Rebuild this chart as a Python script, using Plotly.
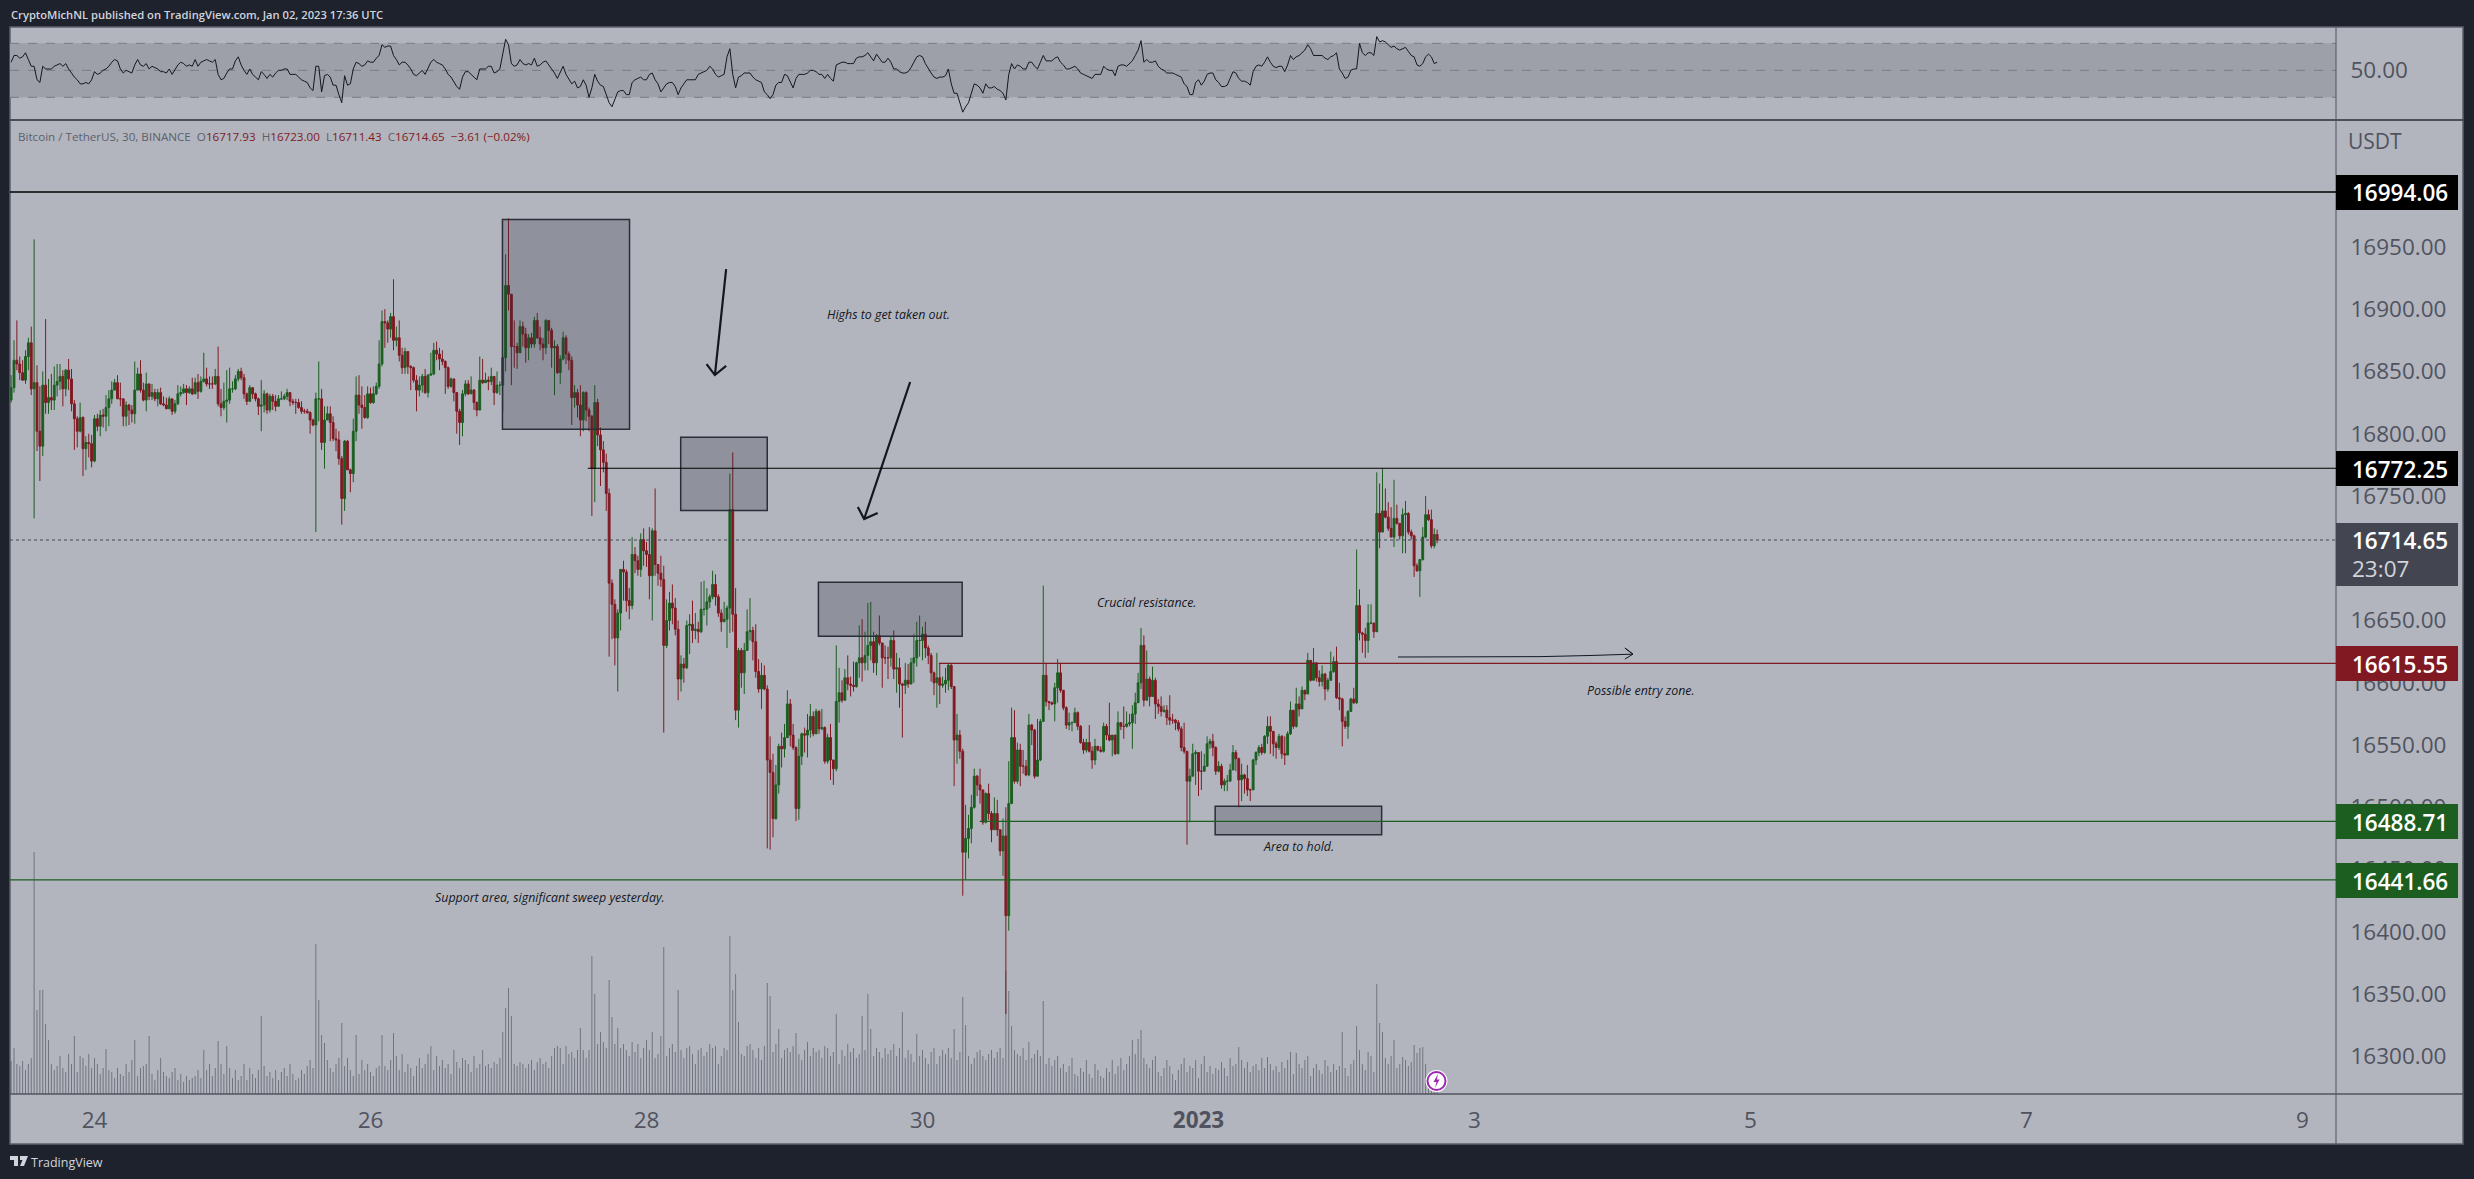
import pandas as pd
import plotly.graph_objects as go

W, H = 2474, 1179

first_time = "2022-12-23 09:30"
closes = [
16837,16859,16856,16849,16843,16862,16873,16836,16841,16802,
16790,16839,16825,16829,16827,16839,16842,16846,16836,16851,
16844,16824,16812,16802,16813,16788,16793,16792,16778,16812,
16806,16815,16814,16821,16828,16835,16841,16828,16828,16814,
16823,16819,16816,16835,16848,16835,16827,16840,16830,16833,
16828,16833,16824,16823,16820,16828,16818,16824,16832,16833,
16836,16833,16836,16832,16841,16834,16842,16844,16840,16840,
16840,16846,16824,16821,16826,16827,16836,16836,16844,16850,
16845,16832,16826,16837,16832,16828,16822,16823,16832,16819,
16830,16826,16822,16828,16828,16830,16833,16826,16825,16825,
16821,16818,16818,16817,16811,16807,16828,16828,16793,16811,
16816,16809,16796,16795,16780,16748,16794,16771,16768,16802,
16831,16823,16821,16813,16832,16825,16832,16838,16856,16890,
16889,16884,16894,16875,16877,16863,16853,16866,16854,16853,
16843,16835,16839,16846,16833,16847,16848,16867,16864,16860,
16858,16853,16838,16844,16833,16818,16809,16832,16840,16832,
16835,16825,16819,16843,16841,16843,16842,16846,16833,16839,
16839,16861,16919,16912,16870,16870,16865,16886,16880,16869,
16877,16872,16891,16877,16872,16869,16891,16883,16869,16870,
16849,16860,16877,16864,16859,16829,16833,16823,16811,16833,
16819,16814,16772,16825,16799,16787,16777,16752,16680,16663,
16636,16656,16691,16689,16666,16662,16703,16698,16691,16715,
16706,16703,16686,16722,16695,16688,16683,16630,16650,16664,
16660,16643,16603,16615,16612,16646,16647,16642,16643,16641,
16659,16659,16665,16669,16679,16669,16656,16649,16651,16660,
16739,16655,16578,16626,16608,16626,16641,16642,16633,16609,
16595,16606,16595,16538,16528,16491,16518,16549,16547,16556,
16583,16558,16548,16499,16541,16559,16558,16562,16573,16559,
16577,16563,16564,16537,16556,16538,16531,16585,16592,16586,
16604,16599,16598,16597,16616,16620,16616,16622,16630,16633,
16616,16638,16632,16620,16620,16620,16634,16611,16612,16599,
16598,16602,16599,16616,16620,16634,16634,16639,16628,16622,
16608,16600,16604,16598,16599,16602,16614,16597,16554,16558,
16545,16464,16475,16483,16500,16525,16518,16514,16488,16511,
16495,16482,16495,16482,16465,16477,16413,16503,16556,16521,
16546,16533,16533,16526,16566,16562,16525,16538,16569,16606,
16585,16584,16583,16596,16608,16594,16580,16566,16568,16568,
16576,16565,16552,16546,16552,16545,16538,16549,16546,16545,
16565,16558,16554,16558,16543,16568,16565,16565,16567,16568,
16575,16584,16600,16630,16586,16603,16589,16602,16583,16581,
16577,16578,16572,16570,16570,16568,16563,16548,16545,16521,
16525,16543,16544,16529,16529,16533,16551,16553,16548,16529,
16533,16518,16521,16521,16530,16544,16539,16522,16526,16523,
16514,16514,16538,16544,16548,16544,16557,16565,16561,16551,
16548,16557,16543,16542,16559,16578,16565,16583,16579,16594,
16591,16618,16602,16616,16604,16601,16607,16595,16602,16609,
16617,16588,16587,16569,16565,16577,16587,16584,16662,16640,
16639,16634,16648,16648,16641,16736,16721,16738,16733,16724,
16717,16732,16728,16718,16735,16736,16721,16718,16694,16690,
16699,16717,16735,16731,16710,16719,16714.65]
highs = [
16847,16875,16891,16862,16859,16867,16877,16886,16956,16855,
16838,16850,16892,16844,16848,16854,16856,16856,16851,16852,
16860,16852,16827,16814,16825,16814,16798,16800,16799,16815,
16816,16819,16820,16831,16835,16842,16844,16847,16841,16828,
16826,16824,16823,16858,16853,16859,16841,16849,16840,16840,
16836,16836,16837,16830,16829,16830,16828,16827,16839,16838,
16840,16839,16838,16845,16845,16848,16846,16865,16853,16846,
16846,16852,16870,16836,16841,16851,16853,16842,16847,16852,
16853,16848,16833,16839,16837,16833,16829,16843,16835,16833,
16832,16832,16831,16831,16834,16832,16836,16833,16828,16828,
16828,16826,16820,16820,16818,16812,16833,16858,16836,16822,
16822,16822,16814,16804,16802,16782,16795,16795,16772,16812,
16846,16847,16838,16831,16838,16837,16838,16841,16875,16899,
16900,16891,16897,16924,16886,16891,16869,16869,16865,16855,
16854,16847,16846,16848,16852,16848,16865,16873,16874,16869,
16867,16859,16854,16845,16844,16833,16820,16835,16843,16843,
16846,16836,16826,16862,16860,16849,16846,16853,16846,16850,
16842,16863,16944,16973,16912,16891,16873,16891,16890,16885,
16880,16881,16894,16897,16886,16877,16892,16891,16885,16875,
16872,16863,16882,16879,16866,16862,16839,16836,16839,16834,
16834,16821,16815,16839,16828,16805,16794,16784,16756,16683,
16667,16659,16691,16698,16691,16676,16717,16709,16702,16720,
16724,16713,16725,16724,16756,16695,16702,16694,16667,16673,
16679,16668,16650,16622,16620,16650,16655,16666,16656,16649,
16681,16682,16676,16671,16690,16687,16671,16659,16665,16662,
16768,16785,16676,16628,16628,16632,16659,16668,16645,16647,
16619,16616,16614,16598,16557,16543,16534,16551,16560,16567,
16594,16587,16567,16549,16555,16560,16564,16575,16583,16577,
16579,16578,16579,16565,16559,16567,16538,16630,16612,16602,
16611,16622,16605,16617,16617,16646,16651,16641,16664,16665,
16641,16639,16654,16632,16630,16629,16637,16642,16624,16620,
16600,16616,16615,16620,16639,16649,16654,16645,16649,16630,
16624,16609,16624,16616,16605,16612,16616,16615,16597,16575,
16562,16547,16502,16494,16510,16531,16526,16531,16514,16512,
16519,16497,16508,16506,16482,16491,16500,16537,16580,16578,
16552,16551,16546,16538,16575,16567,16563,16571,16571,16678,
16616,16585,16585,16600,16619,16616,16594,16581,16576,16569,
16580,16577,16566,16555,16555,16566,16549,16555,16549,16549,
16568,16567,16584,16558,16558,16577,16568,16581,16577,16575,
16582,16592,16608,16644,16638,16626,16605,16613,16604,16587,
16589,16582,16582,16590,16575,16571,16570,16565,16568,16545,
16531,16551,16546,16544,16545,16543,16557,16555,16559,16549,
16537,16535,16523,16526,16535,16550,16546,16540,16535,16527,
16534,16515,16539,16545,16550,16551,16558,16573,16573,16561,
16553,16559,16558,16557,16561,16585,16578,16596,16589,16597,
16593,16624,16618,16628,16616,16610,16614,16608,16604,16625,
16621,16629,16600,16588,16573,16578,16588,16596,16707,16675,
16641,16644,16663,16663,16648,16769,16760,16772,16756,16745,
16741,16763,16743,16728,16740,16746,16737,16723,16719,16696,
16699,16725,16750,16739,16739,16724,16723]
lows = [
16825,16833,16851,16843,16843,16840,16851,16831,16732,16786,
16762,16782,16816,16816,16819,16819,16830,16835,16822,16830,
16835,16818,16787,16789,16801,16766,16771,16781,16773,16777,
16802,16798,16805,16802,16806,16824,16835,16828,16822,16806,
16806,16807,16809,16808,16835,16833,16826,16818,16827,16827,
16826,16822,16823,16822,16820,16820,16815,16816,16823,16830,
16832,16823,16832,16831,16832,16828,16833,16841,16838,16836,
16836,16839,16822,16814,16819,16809,16824,16833,16835,16842,
16843,16828,16823,16826,16828,16826,16815,16802,16817,16816,
16817,16819,16818,16822,16827,16827,16827,16822,16823,16816,
16820,16816,16816,16816,16800,16806,16721,16810,16787,16772,
16811,16794,16794,16786,16775,16727,16738,16771,16753,16761,
16794,16816,16804,16812,16812,16824,16824,16831,16836,16854,
16869,16873,16877,16867,16870,16858,16848,16848,16848,16835,
16841,16818,16830,16833,16832,16829,16847,16847,16859,16851,
16855,16832,16836,16837,16826,16800,16791,16798,16830,16831,
16832,16819,16814,16819,16840,16841,16835,16839,16823,16832,
16831,16818,16850,16899,16839,16853,16852,16865,16870,16857,
16859,16869,16869,16876,16867,16859,16864,16872,16853,16831,
16848,16840,16859,16856,16851,16807,16821,16813,16798,16802,
16810,16802,16734,16745,16790,16758,16769,16738,16621,16635,
16614,16593,16642,16666,16657,16651,16659,16688,16686,16685,
16694,16693,16667,16650,16686,16678,16677,16560,16628,16642,
16647,16638,16586,16593,16600,16611,16623,16632,16635,16632,
16640,16654,16646,16660,16667,16662,16653,16641,16649,16628,
16640,16641,16570,16564,16596,16591,16626,16634,16618,16604,
16592,16579,16594,16467,16466,16476,16490,16511,16532,16540,
16556,16549,16546,16489,16490,16534,16544,16540,16556,16557,
16559,16559,16562,16535,16535,16522,16518,16529,16568,16584,
16586,16594,16589,16593,16596,16604,16601,16610,16610,16618,
16608,16606,16630,16596,16615,16603,16613,16603,16592,16580,
16556,16591,16596,16600,16600,16613,16621,16618,16620,16615,
16601,16590,16580,16583,16596,16592,16594,16595,16517,16535,
16539,16429,16442,16459,16471,16499,16509,16503,16486,16487,
16490,16472,16483,16477,16461,16445,16334,16401,16504,16519,
16519,16517,16527,16525,16525,16550,16523,16525,16537,16569,
16581,16578,16582,16569,16584,16592,16578,16563,16562,16561,
16568,16562,16551,16543,16544,16544,16531,16534,16545,16544,
16544,16554,16553,16541,16542,16543,16562,16555,16564,16565,
16547,16567,16585,16595,16581,16586,16581,16589,16571,16575,
16573,16576,16566,16566,16567,16562,16561,16545,16543,16470,
16488,16525,16518,16509,16514,16529,16533,16547,16541,16526,
16528,16515,16513,16513,16521,16530,16529,16500,16505,16511,
16509,16505,16514,16534,16541,16542,16543,16551,16543,16541,
16539,16546,16539,16534,16542,16558,16563,16564,16573,16579,
16586,16591,16601,16602,16601,16597,16597,16586,16593,16602,
16608,16587,16578,16549,16563,16555,16577,16583,16583,16634,
16624,16620,16624,16647,16636,16641,16708,16721,16732,16722,
16717,16709,16727,16715,16704,16704,16719,16715,16685,16689,
16669,16698,16716,16730,16708,16708,16712]
volumes = [
33,46,30,28,33,24,30,36,242,84,104,104,70,54,30,24,28,38,26,22,
40,30,58,22,38,36,28,40,26,36,30,20,26,45,24,22,16,26,20,18,
30,22,34,54,18,26,28,30,58,20,14,24,36,22,18,16,22,26,14,20,
12,18,14,16,18,24,16,44,24,30,18,26,53,30,20,48,26,16,24,14,
18,30,14,26,20,16,24,78,28,18,22,16,24,14,22,26,18,30,20,14,
16,24,20,28,34,26,150,94,59,51,34,26,22,30,36,71,28,36,24,18,
59,20,34,24,30,22,18,26,28,59,28,24,34,61,38,24,40,22,30,26,
18,28,36,26,30,40,48,24,38,28,34,26,30,20,44,32,26,36,34,30,
22,38,26,30,44,28,30,26,32,30,36,62,86,106,78,30,28,32,30,26,
30,34,24,32,36,30,32,26,38,46,48,46,30,48,40,42,36,44,66,44,
36,44,138,100,50,62,52,46,114,77,50,66,46,50,44,38,52,42,50,36,
46,54,44,62,36,40,58,147,38,46,50,42,104,44,36,46,48,40,30,44,
46,38,42,50,46,48,30,38,46,44,158,104,120,72,40,38,48,50,44,36,
46,34,48,111,98,42,50,65,36,44,46,42,48,61,40,34,44,52,38,46,
42,44,36,48,46,38,42,80,30,44,38,50,42,46,36,40,78,44,100,65,
38,46,42,36,46,40,44,50,38,46,82,36,44,40,32,60,38,44,36,30,
42,46,30,38,44,40,46,36,65,34,42,97,69,38,30,36,42,44,38,34,
40,44,36,42,46,36,123,103,68,44,40,38,46,34,52,36,40,44,38,93,
30,36,28,34,38,26,30,22,28,36,20,18,26,22,34,20,16,30,24,18,
16,26,22,34,20,28,36,24,30,38,54,40,55,64,36,30,26,34,38,22,
18,26,34,28,20,14,24,30,36,22,28,26,34,16,30,38,22,28,20,26,
24,32,26,18,36,28,30,47,34,26,32,22,28,30,24,36,26,37,30,24,
28,22,32,26,34,42,20,41,30,26,34,38,18,26,30,24,20,34,28,22,
30,24,28,62,26,18,30,34,68,44,30,24,42,38,22,110,71,62,36,30,
38,54,26,30,37,34,28,32,49,41,46,47,30,18,22,14,10]
rsi_values = [
56,61,61,59,60,63,58,53,53,43,
41,53,51,51,51,53,54,55,53,55,
51,48,45,43,40,40,41,40,43,49,
47,48,50,51,53,56,58,57,51,48,
50,49,48,54,58,54,53,55,51,53,
52,51,49,49,48,51,47,51,54,56,
55,53,54,53,58,53,56,57,58,57,
56,58,47,43,44,48,51,51,57,60,
54,50,47,51,47,45,43,49,47,44,
47,45,48,50,50,51,51,47,47,47,
45,43,42,41,37,35,53,53,34,46,
47,45,39,39,32,26,46,39,40,51,
56,55,53,54,57,56,56,59,61,69,
67,68,68,61,58,54,56,56,54,51,
47,46,48,50,47,51,56,58,56,55,
54,51,47,45,41,38,36,45,49,49,
47,45,43,51,51,51,53,53,48,49,
51,63,73,69,55,53,54,58,55,54,
55,54,59,53,54,56,57,54,51,48,
44,49,53,47,43,40,42,37,38,43,
39,30,37,47,42,39,38,32,26,23,
29,34,35,35,32,32,41,43,44,45,
43,43,47,48,43,40,34,37,40,41,
41,38,32,37,40,43,43,43,43,47,
48,49,50,53,51,47,45,46,47,60,
66,47,37,45,46,48,48,48,45,43,
42,41,34,32,29,32,39,41,41,47,
46,42,37,44,47,47,47,48,50,50,
49,47,47,44,47,44,42,54,55,56,
56,55,55,55,59,60,60,61,63,60,
57,62,59,56,56,59,56,51,51,49,
48,48,49,52,56,60,61,60,55,51,
48,45,44,45,45,46,51,40,33,33,
26,19,23,26,33,40,39,37,33,40,
37,37,38,36,35,33,28,47,55,51,
54,53,51,51,56,56,53,51,56,61,
57,57,57,59,60,56,54,51,51,52,
53,51,48,47,46,45,44,47,47,47,
53,51,50,50,46,53,54,54,53,55,
57,61,65,72,56,58,56,56,57,53,
51,50,48,48,48,47,46,45,40,38,
32,32,41,43,39,42,47,48,48,43,
41,38,38,39,44,49,48,44,42,42,
41,39,49,53,54,53,56,60,56,53,
52,53,53,49,54,61,58,60,61,63,
65,69,66,61,61,61,61,59,58,60,
61,63,51,48,44,45,50,51,51,70,
63,61,63,63,61,75,71,72,71,69,
67,68,66,65,66,67,64,61,60,54,
53,55,60,62,60,55,56]
first_open = 16827
opens = [first_open] + closes[:-1]

price_ticks = [16300,16350,16400,16450,16500,16550,16600,16650,16750,16800,16850,16900,16950]
date_ticks = ["2022-12-24","2022-12-26","2022-12-28","2022-12-30","2023-01-01","2023-01-03","2023-01-05","2023-01-07","2023-01-09"]
date_labels = ["24","26","28","30","<b>2023</b>","3","5","7","9"]

BG = "#b2b5be"; DARK = "#1e222d"; RED = "#801922"; GREEN = "#1b5e20"; AXTXT = "#50535e"
FONT = "Open Sans"

times = pd.date_range(first_time, periods=len(closes), freq="30min")
t0 = pd.Timestamp("2022-12-24")
def bar(i):
    return t0 + pd.Timedelta(minutes=30 * i)
def px(x):
    return x / W
def py(y):
    return 1 - y / H

PLOT_L, PLOT_R = 10, 2336
fig = go.Figure()
fig.add_trace(go.Candlestick(x=times, open=opens, high=highs, low=lows, close=closes,
    increasing=dict(line=dict(color=GREEN, width=1), fillcolor=GREEN),
    decreasing=dict(line=dict(color=RED, width=1), fillcolor=RED),
    whiskerwidth=0, showlegend=False, hoverinfo="skip", xaxis="x", yaxis="y"))
# volume drawn as hairline stems
vol_x, vol_y = [], []
for t, v in zip(times, volumes):
    vol_x += [t, t, None]
    vol_y += [0, v, None]
fig.add_trace(go.Scatter(x=vol_x, y=vol_y, mode="lines", line=dict(color="rgba(50,53,65,0.85)", width=0.6),
    connectgaps=False, showlegend=False, hoverinfo="skip", xaxis="x", yaxis="y3"))
fig.add_trace(go.Scatter(x=times, y=rsi_values, mode="lines", line=dict(color="#131722", width=1),
    showlegend=False, hoverinfo="skip", xaxis="x", yaxis="y2"))

# hand-drawn arrows (bar index, price)
arrows = [
    ([219.7, 215.8, 212.9, 215.8, 219.7], [16932.2, 16847.1, 16855.9, 16847.1, 16854.4], 2.2),
    ([283.7, 267.7, 265.5, 267.7, 272.4], [16841.5, 16731.5, 16741.2, 16731.5, 16736.3], 2.2),
    ([453.4, 502.8, 520.2, 535.1, 532.3, 535.1, 532.3], [16620.7, 16621, 16621.9, 16623, 16627.9, 16623, 16619], 1),
]
for ax_i, ay, w in arrows:
    fig.add_trace(go.Scatter(x=[bar(i) for i in ax_i], y=ay, mode="lines", line=dict(color="#131722", width=w),
        showlegend=False, hoverinfo="skip", xaxis="x", yaxis="y"))

shapes = []
# panel background
shapes.append(dict(type="rect", xref="paper", yref="paper", x0=px(10), x1=px(2463), y0=py(1144), y1=py(27),
    fillcolor=BG, line=dict(color="#5d606b", width=1.5), layer="below"))
# RSI band and levels
shapes.append(dict(type="rect", xref="paper", yref="y2", x0=px(PLOT_L), x1=px(PLOT_R), y0=30, y1=70,
    fillcolor="#9da0a9", line=dict(width=0), layer="below"))
for lv in (70, 50, 30):
    shapes.append(dict(type="line", xref="paper", yref="y2", x0=px(PLOT_L), x1=px(PLOT_R), y0=lv, y1=lv,
        line=dict(color="#787b86", width=1, dash="dash"), layer="below"))
# pane separators
for x0, x1, y, c, w in [(10, 2463, 120, "#2a2e39", 1.5), (10, 2463, 1094, "#50535e", 1.5)]:
    shapes.append(dict(type="line", xref="paper", yref="paper", x0=px(x0), x1=px(x1), y0=py(y), y1=py(y),
        line=dict(color=c, width=w), layer="above"))
shapes.append(dict(type="line", xref="paper", yref="paper", x0=px(PLOT_R), x1=px(PLOT_R), y0=py(1144), y1=py(27),
    line=dict(color="#50535e", width=1), layer="above"))
# drawn rectangles
zones = [(141.9, 186.1, 16803.5, 16972.1), (203.9, 234.0, 16738.4, 16797.1),
         (251.8, 301.8, 16637.3, 16680.7), (389.8, 447.7, 16478.0, 16500.8)]
for a, b, lo, hi in zones:
    shapes.append(dict(type="rect", xref="x", yref="y", x0=bar(a), x1=bar(b), y0=lo, y1=hi,
        fillcolor="rgba(42,46,57,0.26)", line=dict(color="#2a2e39", width=1.5), layer="above"))
# price levels
plot_end = bar((PLOT_R - 94.5) / 2.875)
levels = [(16994.06, -29.4, "#000000", 1.4), (16772.25, 171.6, "#000000", 1.2), (16615.55, 293.7, RED, 1.2),
          (16488.71, 307.9, GREEN, 1.2), (16441.66, -29.4, GREEN, 1.2)]
for p, start, c, w in levels:
    shapes.append(dict(type="line", xref="x", yref="y", x0=bar(start), x1=plot_end, y0=p, y1=p,
        line=dict(color=c, width=w), layer="above"))
last_price = 16714.65
shapes.append(dict(type="line", xref="paper", yref="y", x0=px(PLOT_L), x1=px(PLOT_R), y0=last_price, y1=last_price,
    line=dict(color="#434651", width=1, dash="dot"), layer="above"))
# axis label boxes
def ybox(y0, y1, c):
    shapes.append(dict(type="rect", xref="paper", yref="paper", x0=px(PLOT_R), x1=px(2458), y0=py(y1), y1=py(y0),
        fillcolor=c, line=dict(width=0), layer="above"))
ybox(175, 210, "#000000"); ybox(451, 486, "#000000"); ybox(523, 586, "#434651")
ybox(646, 681, RED); ybox(804, 839, GREEN); ybox(863, 898, GREEN)

# lightning badge
def circle(cx, cy, r, fill, lc=None, lw=0):
    shapes.append(dict(type="circle", xref="paper", yref="paper", x0=px(cx - r), x1=px(cx + r), y0=py(cy + r), y1=py(cy - r),
        fillcolor=fill, line=dict(color=lc or fill, width=lw), layer="above"))
circle(1436.5, 1081, 11, "#ffffff")
circle(1436.5, 1081, 9, "#ffffff", "#9c27b0", 2)
def poly(pts, fill):
    s = "M " + " L ".join(f"{px(x):.6f},{py(y):.6f}" for x, y in pts) + " Z"
    shapes.append(dict(type="path", xref="paper", yref="paper", path=s, fillcolor=fill, line=dict(width=0), layer="above"))
poly([(1438, 1074), (1433.5, 1082), (1436.5, 1082), (1435, 1088), (1439.5, 1079.5), (1436.8, 1079.5)], "#9c27b0")
# TradingView mark
poly([(10, 1156), (18, 1156), (18, 1166), (14, 1166), (14, 1160), (10, 1160)], "#d1d4dc")
poly([(20, 1156), (28, 1156), (24, 1166), (20, 1166), (22.5, 1160), (20, 1160)], "#d1d4dc")

ann = []
def txt(x, y, t, size, color, anchor="left", weight=None):
    f = dict(family=FONT, size=size, color=color)
    if weight:
        f["weight"] = weight
    ann.append(dict(x=px(x), y=py(y), xref="paper", yref="paper", text=t, showarrow=False, xanchor=anchor,
        yanchor="middle", font=f, align="left", borderpad=0))

txt(10, 15, "CryptoMichNL published on TradingView.com, Jan 02, 2023 17:36 UTC", 11.2, "#d1d4dc", weight=600)
txt(104, 1162, "TradingView", 12.5, "#d1d4dc", anchor="right")
G = "#5d606b"
legend = (f'<span style="color:{G}">Bitcoin / TetherUS, 30, BINANCE &nbsp;O</span><span style="color:{RED}">16717.93</span>'
          f'<span style="color:{G}"> &nbsp;H</span><span style="color:{RED}">16723.00</span>'
          f'<span style="color:{G}"> &nbsp;L</span><span style="color:{RED}">16711.43</span>'
          f'<span style="color:{G}"> &nbsp;C</span><span style="color:{RED}">16714.65 &nbsp;−3.61 (−0.02%)</span>')
txt(17, 136, legend, 11.65, G)
txt(2347, 141, "USDT", 21, AXTXT)
for p, y in [("16994.06", 193), ("16772.25", 469), ("16714.65", 541), ("16615.55", 664), ("16488.71", 822), ("16441.66", 881)]:
    txt(2351, y, p, 22.5, "#ffffff", weight=600)
txt(2351, 568, "23:07", 22.5, "#d1d4dc")
for x, y, t in [(888.5, 314, "Highs to get taken out."), (1146.5, 602, "Crucial resistance."),
                (1641, 690, "Possible entry zone."), (1298.5, 846, "Area to hold."),
                (550, 897, "Support area, significant sweep yesterday.")]:
    txt(x, y, f"<i>{t}</i>", 12.4, "#131722", anchor="center")

fig.update_layout(
    width=W, height=H, margin=dict(l=0, r=0, t=0, b=0), autosize=False,
    paper_bgcolor=DARK, plot_bgcolor="rgba(0,0,0,0)", showlegend=False, hovermode=False,
    boxgap=0.2, boxgroupgap=0.2,
    font=dict(family=FONT, color=AXTXT),
    shapes=shapes, annotations=ann,
    xaxis=dict(type="date", domain=[px(PLOT_L), px(PLOT_R)], range=[bar(-29.39), plot_end], anchor="y",
        rangeslider=dict(visible=False), showgrid=False, zeroline=False, showline=False,
        tickmode="array", tickvals=date_ticks, ticktext=date_labels, tickfont=dict(size=22.5, color=AXTXT, family=FONT),
        ticks="outside", ticklen=6, tickcolor="rgba(0,0,0,0)", tickangle=0, fixedrange=True),
    yaxis=dict(domain=[py(1094), py(120)], range=[16269.8, 17051.9], side="right", anchor="x", showgrid=False,
        zeroline=False, showline=False, tickmode="array", tickvals=price_ticks,
        ticktext=[f"{v}.00" for v in price_ticks], tickfont=dict(size=22.5, color=AXTXT, family=FONT),
        ticks="outside", ticklen=9, tickcolor="rgba(0,0,0,0)", fixedrange=True),
    yaxis2=dict(domain=[py(120), py(27)], range=[13.2, 82.1], side="right", anchor="x", showgrid=False,
        zeroline=False, showline=False, tickmode="array", tickvals=[50], ticktext=["50.00"],
        tickfont=dict(size=22.5, color=AXTXT, family=FONT), ticks="outside", ticklen=9,
        tickcolor="rgba(0,0,0,0)", fixedrange=True),
    yaxis3=dict(domain=[py(1094), py(120)], range=[0, 974], overlaying="y", side="left", anchor="x",
        visible=False, fixedrange=True),
)
fig.write_html("out.html", config=dict(displayModeBar=False), post_script="document.body.style.margin='0';")
